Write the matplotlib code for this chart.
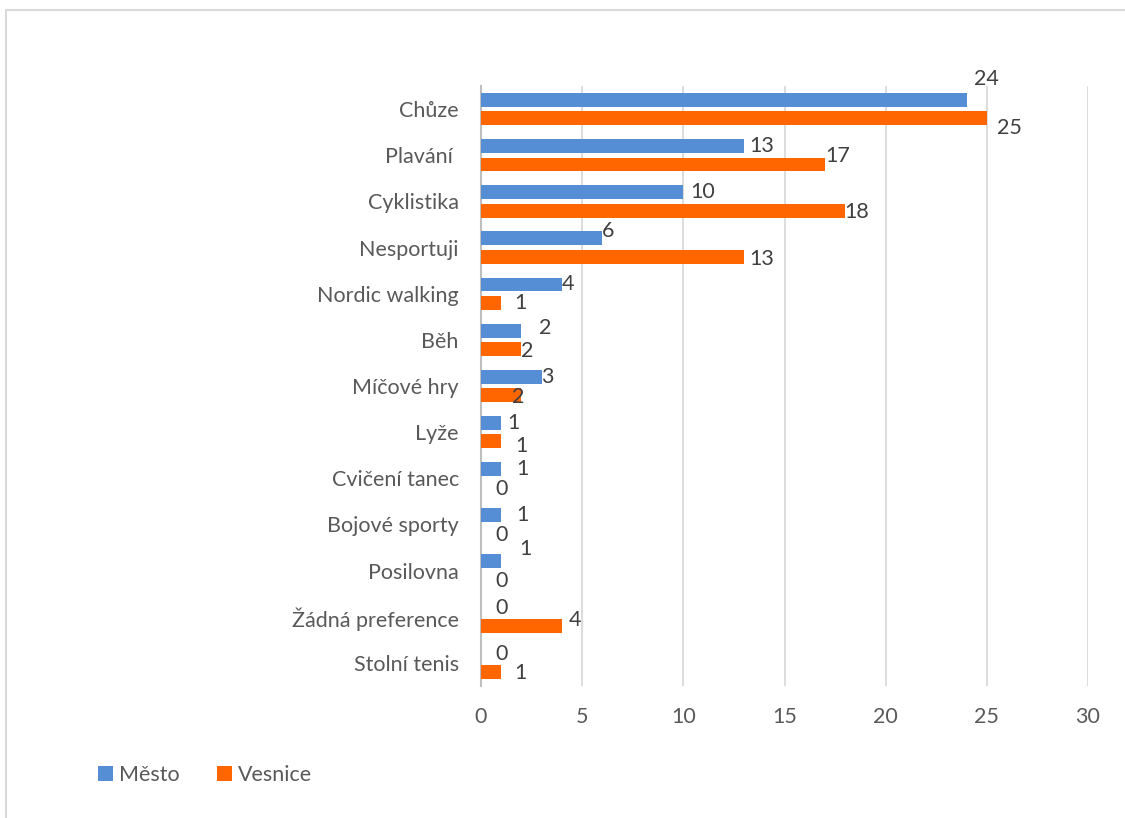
import matplotlib.pyplot as plt
from matplotlib.patches import Rectangle
import numpy as np

# Sports preference counts by residence
categories = ["Chůze", "Plavání ", "Cyklistika", "Nesportuji", "Nordic walking", "Běh",
              "Míčové hry", "Lyže", "Cvičení tanec", "Bojové sporty", "Posilovna",
              "Žádná preference", "Stolní tenis"]
mesto = [24, 13, 10, 6, 4, 2, 3, 1, 1, 1, 1, 0, 0]
vesnice = [25, 17, 18, 13, 1, 2, 2, 1, 0, 0, 0, 4, 1]
x_ticks = [0, 5, 10, 15, 20, 25, 30]

# Data label nudges (pixels from bar end / bar centre)
mesto_label_offsets = [(20, 21), (18, 0), (19, 0), (6, 7), (6, 0), (24, 3), (6, 0),
                       (12, 0), (21, 0), (21, 0), (24, 12), (21, 0), (21, 0)]
vesnice_label_offsets = [(23, -10), (13, 8), (11, -1), (18, -2), (19, 0), (6, -2), (-3, -2),
                         (20, -5), (21, -1), (21, -1), (21, -1), (13, 6), (19, -1)]

BLUE = "#558ED5"
ORANGE = "#FF6600"
TEXT = "#595959"

plt.rcParams['font.family'] = ['Lato', 'DejaVu Sans']

fig = plt.figure(figsize=(11.25, 8.18), dpi=100)
ax = fig.add_axes([481 / 1125, 1 - 686 / 818, (1088 - 481) / 1125, (686 - 86) / 818])

# light outer frame
fig.patches.append(Rectangle((6 / 1125, -0.1), 1.2, 1 - 10 / 818 + 0.1,
                             transform=fig.transFigure, fill=False,
                             edgecolor="#D9D9D9", linewidth=1.5))

y = np.arange(len(categories))
h = 0.30
off = 0.20
ax.barh(y - off, mesto, height=h, color=BLUE, label="Město", zorder=3)
ax.barh(y + off, vesnice, height=h, color=ORANGE, label="Vesnice", zorder=3)

for i in range(len(categories)):
    dx, dy = mesto_label_offsets[i]
    ax.annotate(str(mesto[i]), (mesto[i], y[i] - off), xytext=(dx, dy),
                textcoords="offset pixels", ha="center", va="center",
                fontsize=15.5, color="#404040", zorder=4)
    dx, dy = vesnice_label_offsets[i]
    ax.annotate(str(vesnice[i]), (vesnice[i], y[i] + off), xytext=(dx, dy),
                textcoords="offset pixels", ha="center", va="center",
                fontsize=15.5, color="#404040", zorder=4)

ax.set_xlim(0, 30)
ax.set_ylim(len(categories) - 0.5, -0.5)
ax.set_xticks(x_ticks)
ax.set_yticks(y)
ax.set_yticklabels(categories)
ax.grid(axis="x", color="#D9D9D9", linewidth=1.3, zorder=0)
for side in ["top", "right", "bottom"]:
    ax.spines[side].set_visible(False)
ax.spines["left"].set_color("#BFBFBF")
ax.spines["left"].set_linewidth(1.5)
ax.tick_params(axis="both", length=0, labelsize=15.5, labelcolor=TEXT)
ax.tick_params(axis="y", pad=16)
ax.tick_params(axis="x", pad=15)

fig.legend(loc="center left", bbox_to_anchor=(79 / 1125, 1 - 775 / 818), ncol=2,
           frameon=False, fontsize=15.5, labelcolor=TEXT, handlelength=0.7,
           handleheight=0.75, handletextpad=0.25, columnspacing=1.75)

fig.savefig("out.png", dpi=100)
